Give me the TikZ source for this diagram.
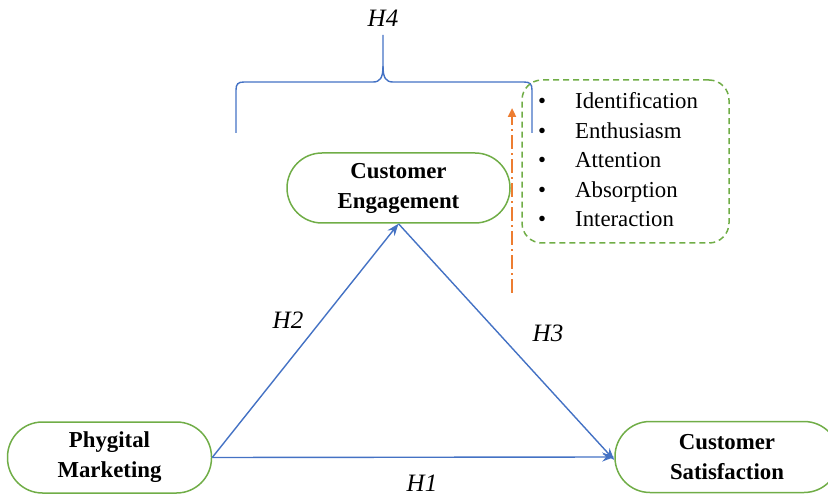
\documentclass[tikz,border=0pt]{standalone}
\usepackage{fontspec}
\setmainfont{Liberation Serif}
\usetikzlibrary{arrows.meta}
\definecolor{linkblue}{HTML}{4472C4}
\definecolor{boxgreen}{HTML}{70AD47}
\definecolor{accent}{HTML}{ED7D31}

\begin{document}
\begin{tikzpicture}[x=1pt,y=-1pt,
  construct/.style={draw=boxgreen, line width=1.5pt, rounded corners=35pt,
    minimum width=204pt, minimum height=71pt, align=center, inner sep=0pt,
    font=\bfseries\fontsize{22.8}{30}\selectfont},
  link/.style={draw=linkblue, line width=1.4pt, -{Stealth[length=12pt,width=9pt]}},
  hyp/.style={font=\itshape\fontsize{25}{25}\selectfont, inner sep=0pt},
  bracepath/.style={draw=linkblue, line width=1.4pt}
]
\useasboundingbox (0,0) rectangle (828,497);

% constructs
\node[construct] (pm) at (109.5,457.5) {Phygital\\Marketing};
\node[construct, minimum width=224pt] (cs) at (727,457) {Customer\\Satisfaction};
\node[construct, minimum width=223pt, minimum height=70pt] (ce) at (398.5,188) {Customer\\Engagement};

% hypothesised paths
\draw[link] (pm.east) -- (ce.south);
\draw[link] (ce.south) -- ([yshift=-3pt]cs.west);
\draw[link] (pm.east) -- (cs.west);

\node[hyp] (h1) at (422,483) {H1};
\node[hyp] (h2) at (288,320) {H2};
\node[hyp] (h3) at (548,333) {H3};
\node[hyp] (h4) at (383,18) {H4};

% brace over the mediating path
\draw[bracepath] (236,133) -- (236,90) .. controls (236,84) and (238,82) .. (244,82)
  -- (373,82) .. controls (380,82) and (383,78) .. (383,66) -- (383,35);
\draw[bracepath] (532,133) -- (532,90) .. controls (532,84) and (530,82) .. (524,82)
  -- (393,82) .. controls (386,82) and (383,78) .. (383,66);

% engagement dimensions
\node[draw=boxgreen, line width=1.5pt, dash pattern=on 6pt off 4pt, rounded corners=20pt,
  minimum width=207pt, minimum height=163pt, inner sep=0pt] (dims) at (625.5,161.5) {};
\node[anchor=base west, inner sep=0pt, font=\fontsize{22.8}{29.5}\selectfont] (items) at (538,109)
  {\begin{tabular}[t]{@{}p{37pt}@{}l@{}}
    \textbullet & Identification\\
    \textbullet & Enthusiasm\\
    \textbullet & Attention\\
    \textbullet & Absorption\\
    \textbullet & Interaction
  \end{tabular}};

% link from engagement towards its dimensions
\coordinate (up0) at (512,293);
\coordinate (up1) at (512,108);
\draw[accent, line width=2.4pt, dash pattern=on 14pt off 4pt on 2pt off 4pt,
  -{Triangle[length=9pt,width=8pt]}] (up0) -- (up1);
\end{tikzpicture}
\end{document}
